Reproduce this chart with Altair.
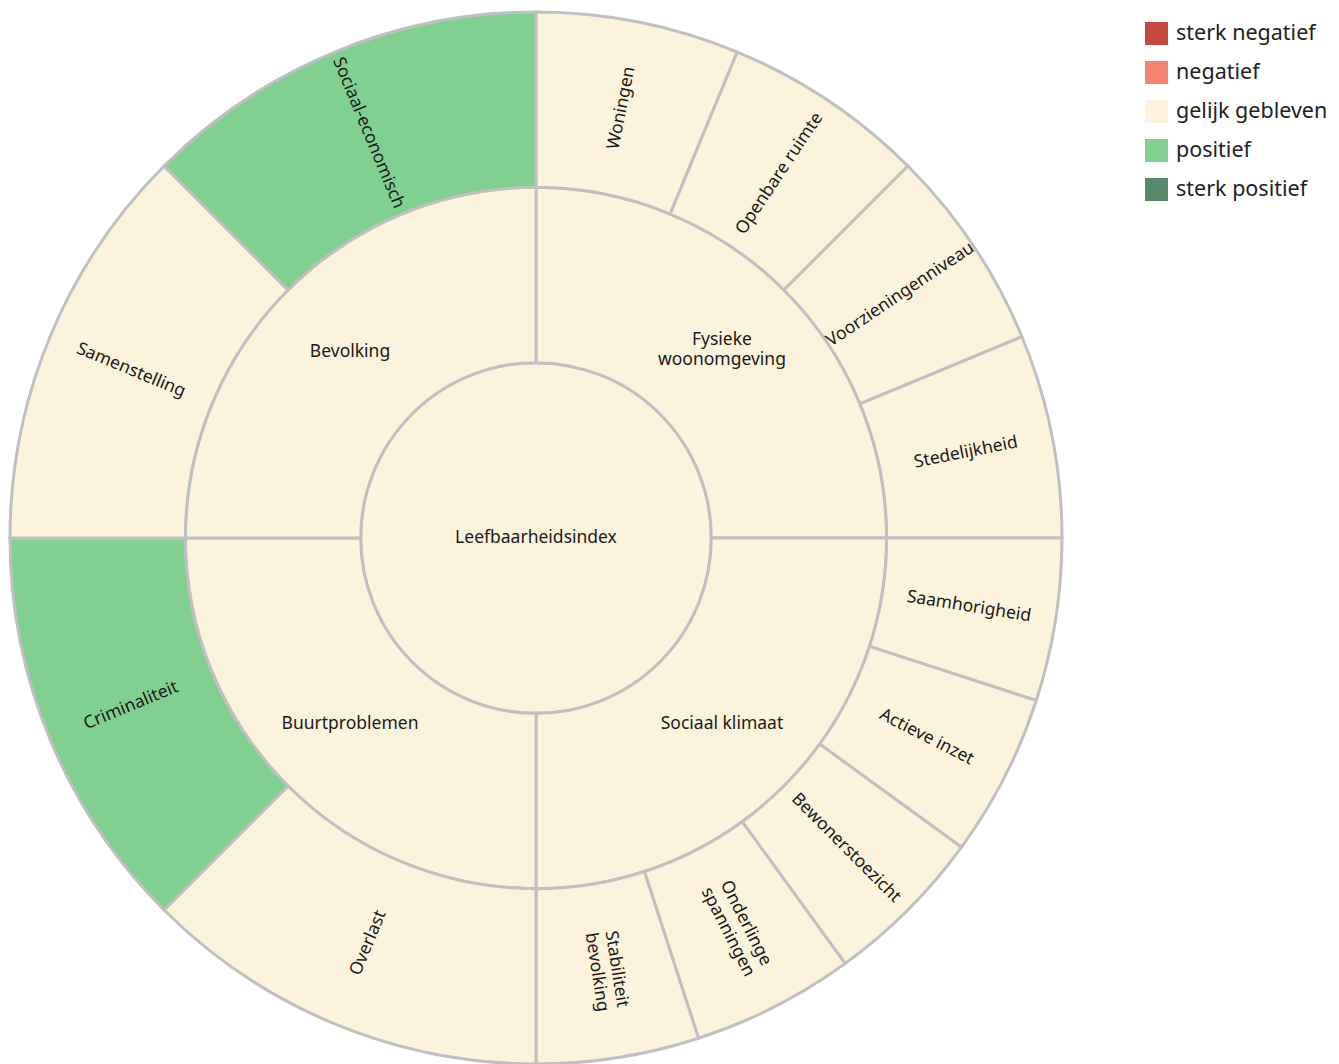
import altair as alt
import pandas as pd

root_label = "Leefbaarheidsindex"
root_status = "gelijk gebleven"

group_labels = ["Fysieke\nwoonomgeving", "Sociaal klimaat", "Buurtproblemen", "Bevolking"]
group_status = ["gelijk gebleven", "gelijk gebleven", "gelijk gebleven", "gelijk gebleven"]

child_labels = [
    ["Woningen", "Openbare ruimte", "Voorzieningenniveau", "Stedelijkheid"],
    ["Saamhorigheid", "Actieve inzet", "Bewonerstoezicht", "Onderlinge\nspanningen", "Stabiliteit\nbevolking"],
    ["Overlast", "Criminaliteit"],
    ["Samenstelling", "Sociaal-economisch"],
]
child_status = [
    ["gelijk gebleven", "gelijk gebleven", "gelijk gebleven", "gelijk gebleven"],
    ["gelijk gebleven", "gelijk gebleven", "gelijk gebleven", "gelijk gebleven", "gelijk gebleven"],
    ["gelijk gebleven", "positief"],
    ["gelijk gebleven", "positief"],
]

status_order = ["sterk negatief", "negatief", "gelijk gebleven", "positief", "sterk positief"]
status_colors = ["#c4493f", "#f5836d", "#fcf3dc", "#80d08f", "#578a6b"]

rows = []
rows.append(dict(level=0, level_out=1, start=0.0, end=1.0, label=root_label, status=root_status))
n_groups = len(group_labels)
for gi, (gl, gs) in enumerate(zip(group_labels, group_status)):
    g0 = gi / n_groups
    g1 = (gi + 1) / n_groups
    rows.append(dict(level=1, level_out=2, start=g0, end=g1, label=gl, status=gs))
    kids = child_labels[gi]
    for ci, (cl, cs) in enumerate(zip(kids, child_status[gi])):
        c0 = g0 + (g1 - g0) * ci / len(kids)
        c1 = g0 + (g1 - g0) * (ci + 1) / len(kids)
        rows.append(dict(level=2, level_out=3, start=c0, end=c1, label=cl, status=cs))

df = pd.DataFrame(rows)
df["mid"] = (df["start"] + df["end"]) / 2
df["rmid"] = (df["level"] + df["level_out"]) / 2
df.loc[df["level"] == 0, "rmid"] = 0


def rot(row):
    if row["level"] < 2:
        return 0.0
    d = row["mid"] * 360
    a = d - 90 if d < 180 else d - 270
    return a % 360


df["rot"] = df.apply(rot, axis=1)
multi = df["label"].str.contains("\n")
df_single = df[~multi]
df_multi = df[multi]

theta_scale = alt.Scale(type="linear", domain=[0, 1], range=[0, 6.283185307179586])
r_scale = alt.Scale(type="linear", domain=[0, 3], range=[0, 526], zero=True)

FONT = "Noto Sans"
CX = 528
CY = 530

arcs = alt.Chart(df).mark_arc(stroke="#c0c0c0", strokeWidth=3).encode(
    x=alt.value(CX),
    y=alt.value(CY),
    theta=alt.Theta("start:Q", scale=theta_scale, stack=None),
    theta2="end:Q",
    radius=alt.Radius("level:Q", scale=r_scale),
    radius2="level_out:Q",
    color=alt.Color(
        "status:N",
        scale=alt.Scale(domain=status_order, range=status_colors),
        legend=alt.Legend(
            title=None,
            orient="none",
            legendX=1137,
            legendY=14,
            symbolType="square",
            symbolSize=529,
            symbolStrokeWidth=0,
            symbolOpacity=1,
            labelFontSize=21.5,
            labelFont=FONT,
            labelColor="#222222",
            labelOffset=8,
            rowPadding=16,
            labelLimit=300,
        ),
    ),
)


def text_layer(data, dy):
    return alt.Chart(data).mark_text(
        lineBreak="\n", font=FONT, fontSize=17.5, lineHeight=20, color="#1a1a1a",
        align="center", baseline="middle", dy=dy
    ).encode(
        x=alt.value(CX),
        y=alt.value(CY),
        theta=alt.Theta("mid:Q", scale=theta_scale, stack=None),
        radius=alt.Radius("rmid:Q", scale=r_scale),
        text="label:N",
        angle=alt.Angle("rot:Q", scale=None),
    )


chart = (
    alt.layer(arcs, text_layer(df_single, 0), text_layer(df_multi, -12))
    .properties(width=1323, height=1056, padding=0, autosize=alt.AutoSizeParams(type="none"))
    .configure_view(stroke=None)
)

chart.save("out.html", embed_options={"renderer": "svg", "actions": False})
